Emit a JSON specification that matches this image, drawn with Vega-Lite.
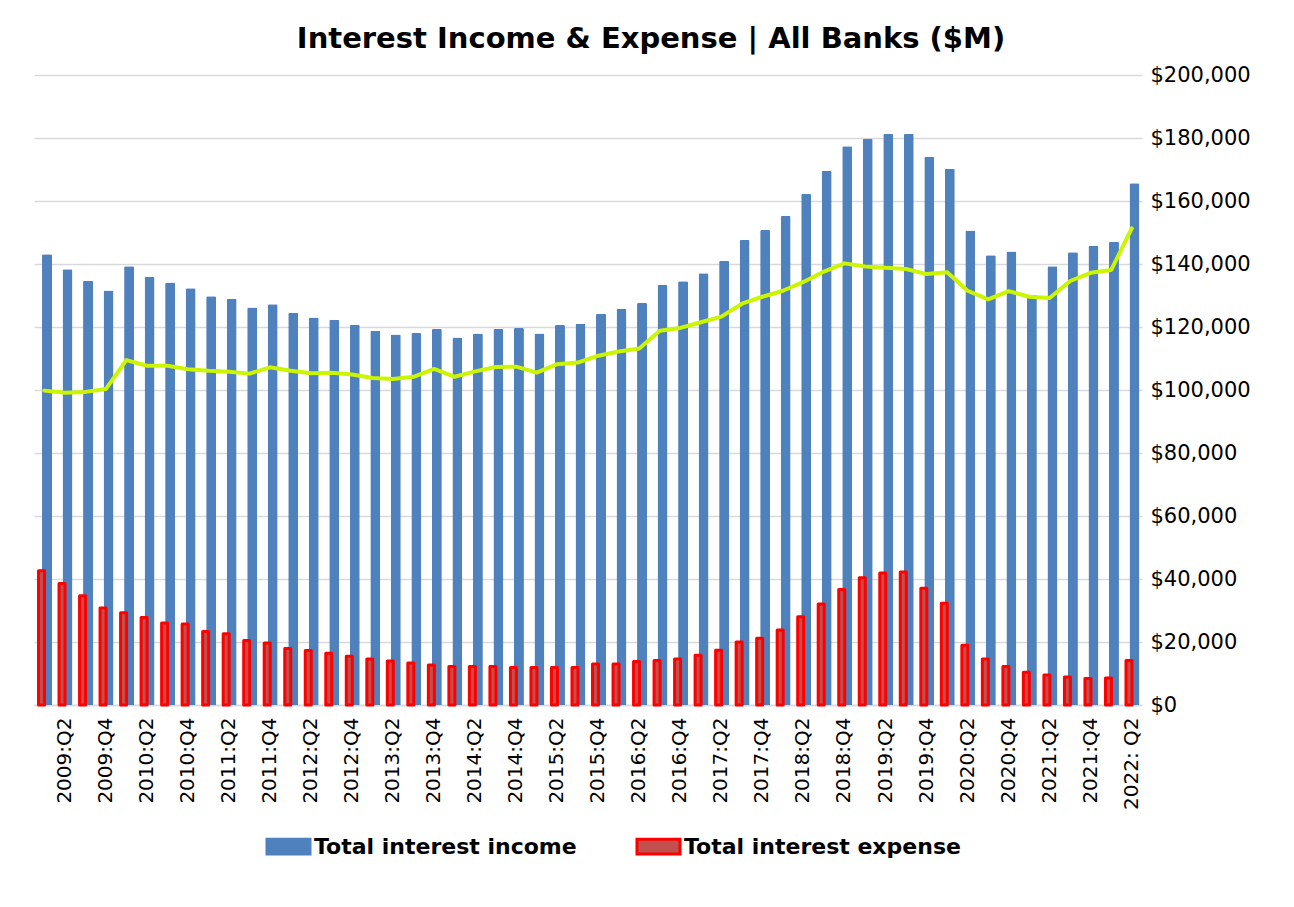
{
  "$schema": "https://vega.github.io/schema/vega-lite/v6.json",
  "width": 1108,
  "height": 630,
  "autosize": "none",
  "padding": {"left": 34, "top": 75, "right": 152, "bottom": 202},
  "background": "white",
  "title": {"text": "Interest Income & Expense | All Banks ($M)", "font": "DejaVu Sans", "fontSize": 29, "fontWeight": "bold", "color": "#000000", "anchor": "middle", "dx": 63, "offset": 10},
  "data": {"values": [
    {"q": "2009:Q1", "Total interest income": 143100, "Total interest expense": 42600, "Net interest income": 99800},
    {"q": "2009:Q2", "Total interest income": 138300, "Total interest expense": 38600, "Net interest income": 99100},
    {"q": "2009:Q3", "Total interest income": 134700, "Total interest expense": 34700, "Net interest income": 99400},
    {"q": "2009:Q4", "Total interest income": 131600, "Total interest expense": 30800, "Net interest income": 100300},
    {"q": "2010:Q1", "Total interest income": 139300, "Total interest expense": 29300, "Net interest income": 109500},
    {"q": "2010:Q2", "Total interest income": 135900, "Total interest expense": 27800, "Net interest income": 107700},
    {"q": "2010:Q3", "Total interest income": 134100, "Total interest expense": 26000, "Net interest income": 107700},
    {"q": "2010:Q4", "Total interest income": 132300, "Total interest expense": 25700, "Net interest income": 106600},
    {"q": "2011:Q1", "Total interest income": 129800, "Total interest expense": 23300, "Net interest income": 106100},
    {"q": "2011:Q2", "Total interest income": 129000, "Total interest expense": 22600, "Net interest income": 105800},
    {"q": "2011:Q3", "Total interest income": 126200, "Total interest expense": 20500, "Net interest income": 105200},
    {"q": "2011:Q4", "Total interest income": 127200, "Total interest expense": 19700, "Net interest income": 107200},
    {"q": "2012:Q1", "Total interest income": 124500, "Total interest expense": 17900, "Net interest income": 106100},
    {"q": "2012:Q2", "Total interest income": 123000, "Total interest expense": 17300, "Net interest income": 105300},
    {"q": "2012:Q3", "Total interest income": 122300, "Total interest expense": 16400, "Net interest income": 105500},
    {"q": "2012:Q4", "Total interest income": 120700, "Total interest expense": 15500, "Net interest income": 104900},
    {"q": "2013:Q1", "Total interest income": 118800, "Total interest expense": 14600, "Net interest income": 103800},
    {"q": "2013:Q2", "Total interest income": 117600, "Total interest expense": 14000, "Net interest income": 103500},
    {"q": "2013:Q3", "Total interest income": 118100, "Total interest expense": 13300, "Net interest income": 104200},
    {"q": "2013:Q4", "Total interest income": 119400, "Total interest expense": 12700, "Net interest income": 106700},
    {"q": "2014:Q1", "Total interest income": 116700, "Total interest expense": 12200, "Net interest income": 104200},
    {"q": "2014:Q2", "Total interest income": 117900, "Total interest expense": 12200, "Net interest income": 105900},
    {"q": "2014:Q3", "Total interest income": 119400, "Total interest expense": 12200, "Net interest income": 107300},
    {"q": "2014:Q4", "Total interest income": 119700, "Total interest expense": 11900, "Net interest income": 107400},
    {"q": "2015:Q1", "Total interest income": 117900, "Total interest expense": 11900, "Net interest income": 105500},
    {"q": "2015:Q2", "Total interest income": 120600, "Total interest expense": 11900, "Net interest income": 108200},
    {"q": "2015:Q3", "Total interest income": 121000, "Total interest expense": 11900, "Net interest income": 108700},
    {"q": "2015:Q4", "Total interest income": 124200, "Total interest expense": 13000, "Net interest income": 110900},
    {"q": "2016:Q1", "Total interest income": 125700, "Total interest expense": 13000, "Net interest income": 112200},
    {"q": "2016:Q2", "Total interest income": 127600, "Total interest expense": 13800, "Net interest income": 113200},
    {"q": "2016:Q3", "Total interest income": 133300, "Total interest expense": 14100, "Net interest income": 118800},
    {"q": "2016:Q4", "Total interest income": 134500, "Total interest expense": 14600, "Net interest income": 119700},
    {"q": "2017:Q1", "Total interest income": 137100, "Total interest expense": 15800, "Net interest income": 121500},
    {"q": "2017:Q2", "Total interest income": 141000, "Total interest expense": 17400, "Net interest income": 123300},
    {"q": "2017:Q3", "Total interest income": 147600, "Total interest expense": 20000, "Net interest income": 127400},
    {"q": "2017:Q4", "Total interest income": 150800, "Total interest expense": 21200, "Net interest income": 129600},
    {"q": "2018:Q1", "Total interest income": 155200, "Total interest expense": 23800, "Net interest income": 131500},
    {"q": "2018:Q2", "Total interest income": 162200, "Total interest expense": 28000, "Net interest income": 134300},
    {"q": "2018:Q3", "Total interest income": 169500, "Total interest expense": 32100, "Net interest income": 137600},
    {"q": "2018:Q4", "Total interest income": 177400, "Total interest expense": 36700, "Net interest income": 140200},
    {"q": "2019:Q1", "Total interest income": 179800, "Total interest expense": 40400, "Net interest income": 139200},
    {"q": "2019:Q2", "Total interest income": 181300, "Total interest expense": 41900, "Net interest income": 138800},
    {"q": "2019:Q3", "Total interest income": 181300, "Total interest expense": 42200, "Net interest income": 138400},
    {"q": "2019:Q4", "Total interest income": 174000, "Total interest expense": 37100, "Net interest income": 136800},
    {"q": "2020:Q1", "Total interest income": 170200, "Total interest expense": 32300, "Net interest income": 137400},
    {"q": "2020:Q2", "Total interest income": 150600, "Total interest expense": 19000, "Net interest income": 131500},
    {"q": "2020:Q3", "Total interest income": 142800, "Total interest expense": 14600, "Net interest income": 128800},
    {"q": "2020:Q4", "Total interest income": 144000, "Total interest expense": 12200, "Net interest income": 131400},
    {"q": "2021:Q1", "Total interest income": 130200, "Total interest expense": 10400, "Net interest income": 129600},
    {"q": "2021:Q2", "Total interest income": 139300, "Total interest expense": 9500, "Net interest income": 129200},
    {"q": "2021:Q3", "Total interest income": 143700, "Total interest expense": 8900, "Net interest income": 134600},
    {"q": "2021:Q4", "Total interest income": 145800, "Total interest expense": 8400, "Net interest income": 137200},
    {"q": "2022:Q1", "Total interest income": 147100, "Total interest expense": 8600, "Net interest income": 138100},
    {"q": "2022: Q2", "Total interest income": 165600, "Total interest expense": 14100, "Net interest income": 151300}
  ]},
  "encoding": {
    "x": {
      "field": "q", "type": "ordinal", "sort": null,
      "scale": {"type": "band", "paddingInner": 0, "paddingOuter": 0},
      "axis": {
        "orient": "bottom", "title": null, "labelAngle": -90,
        "values": ["2009:Q2","2009:Q4","2010:Q2","2010:Q4","2011:Q2","2011:Q4","2012:Q2","2012:Q4","2013:Q2","2013:Q4","2014:Q2","2014:Q4","2015:Q2","2015:Q4","2016:Q2","2016:Q4","2017:Q2","2017:Q4","2018:Q2","2018:Q4","2019:Q2","2019:Q4","2020:Q2","2020:Q4","2021:Q2","2021:Q4","2022: Q2"],
        "labelFont": "DejaVu Sans", "labelFontSize": 20, "labelColor": "#000000",
        "labelPadding": 12, "ticks": false, "domain": true, "domainColor": "#d9d9d9", "domainWidth": 1.5,
        "grid": false, "labelOverlap": false
      }
    }
  },
  "layer": [
    {
      "transform": [
        {"fold": ["Total interest income", "Total interest expense"], "as": ["key", "value"]},
        {"filter": "datum.key === 'Total interest income'"}
      ],
      "mark": {"type": "bar", "width": 10, "xOffset": 2.75, "strokeWidth": 0, "cornerRadiusTopLeft": 1.5, "cornerRadiusTopRight": 1.5},
      "encoding": {
        "y": {
          "field": "value", "type": "quantitative",
          "scale": {"domain": [0, 200000]},
          "axis": {
            "orient": "right", "title": null, "format": "$,.0f",
            "values": [0, 20000, 40000, 60000, 80000, 100000, 120000, 140000, 160000, 180000, 200000],
            "labelFont": "DejaVu Sans", "labelFontSize": 21, "labelColor": "#000000",
            "labelPadding": 8, "ticks": false, "domain": false,
            "grid": true, "gridColor": "#d9d9d9", "gridWidth": 1.5
          }
        },
        "fill": {
          "field": "key", "type": "nominal",
          "scale": {"domain": ["Total interest income", "Total interest expense"], "range": ["#4f81bd", "#c0504d"]},
          "legend": {
            "orient": "none", "legendX": 231, "legendY": 748, "direction": "horizontal", "title": null,
            "labelFont": "DejaVu Sans", "labelFontSize": 22, "labelFontWeight": "bold", "labelColor": "#000000",
            "labelLimit": 0,
            "symbolType": "M-1,-0.34H1V0.34H-1Z", "symbolSize": 1850, "symbolStrokeWidth": 3,
            "labelOffset": 2, "columnPadding": 53
          }
        },
        "stroke": {
          "field": "key", "type": "nominal",
          "scale": {"domain": ["Total interest income", "Total interest expense"], "range": ["#4f81bd", "#ff0000"]},
          "legend": {
            "orient": "none", "legendX": 231, "legendY": 748, "direction": "horizontal", "title": null,
            "labelFont": "DejaVu Sans", "labelFontSize": 22, "labelFontWeight": "bold", "labelColor": "#000000",
            "labelLimit": 0,
            "symbolType": "M-1,-0.34H1V0.34H-1Z", "symbolSize": 1850, "symbolStrokeWidth": 3,
            "labelOffset": 2, "columnPadding": 53
          }
        }
      }
    },
    {
      "transform": [
        {"fold": ["Total interest income", "Total interest expense"], "as": ["key", "value"]},
        {"filter": "datum.key === 'Total interest expense'"}
      ],
      "mark": {"type": "bar", "width": 6, "xOffset": -2.75, "strokeWidth": 3, "strokeJoin": "round"},
      "encoding": {
        "y": {"field": "value", "type": "quantitative"},
        "fill": {"field": "key", "type": "nominal"},
        "stroke": {"field": "key", "type": "nominal"}
      }
    },
    {
      "mark": {"type": "line", "color": "#ccf500", "strokeWidth": 4, "strokeJoin": "round", "strokeCap": "round"},
      "encoding": {
        "y": {"field": "Net interest income", "type": "quantitative"}
      }
    }
  ],
  "config": {
    "view": {"stroke": null},
    "font": "DejaVu Sans"
  }
}
